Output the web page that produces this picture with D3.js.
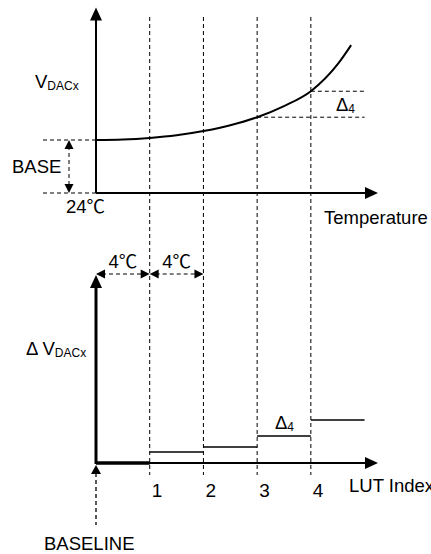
<!DOCTYPE html>
<html>
<head>
<meta charset="utf-8">
<script src="https://cdn.jsdelivr.net/npm/d3@7"></script>
<style>
  body { margin: 0; background: #fff; }
  text { font-family: "Liberation Sans", Arial, "Noto Sans CJK SC", sans-serif; fill: #000; }
</style>
</head>
<body>
<div id="chart"></div>
<script>
// curve data (top): temperature in deg C vs VDACx, arbitrary units (BASE = 1)
const temps = [24, 26, 28, 30, 32, 34, 36, 38, 40, 42, 43];
const vdac = [1.0, 1.01, 1.04, 1.09, 1.17, 1.28, 1.43, 1.64, 1.92, 2.43, 2.79];
const baseV = 1.0;

// LUT (bottom): index boundaries every 4 deg C, step deltas per segment
const lutIndex = [1, 2, 3, 4];
const lutTemps = [28, 32, 36, 40];
const stepStart = [24, 28, 32, 36, 40];
const stepDelta = [0, 1.1, 1.6, 2.7, 4.3];
const tempStep = 4;

const W = 431, H = 554;
const svg = d3.select('#chart').append('svg').attr('width', W).attr('height', H);

const x = d3.scaleLinear().domain([24, 45]).range([96, 378]);
const yTop = d3.scaleLinear().domain([0, 3.5]).range([193, 7.5]);
const yBot = d3.scaleLinear().domain([0, 18.8]).range([463, 275]);

const dash = '4,3';
const fs = '18.5px', fsSub = '12px';

function arrow(g, tipX, tipY, dir, len, half) {
  let pts;
  if (dir === 'up') pts = [[tipX, tipY], [tipX - half, tipY + len], [tipX + half, tipY + len]];
  if (dir === 'down') pts = [[tipX, tipY], [tipX - half, tipY - len], [tipX + half, tipY - len]];
  if (dir === 'right') pts = [[tipX, tipY], [tipX - len, tipY - half], [tipX - len, tipY + half]];
  if (dir === 'left') pts = [[tipX, tipY], [tipX + len, tipY - half], [tipX + len, tipY + half]];
  g.append('path').attr('d', 'M' + pts.join('L') + 'Z').attr('fill', '#000');
}

// vertical dashed LUT boundaries spanning both panels
svg.selectAll('.vdash').data(lutTemps).enter().append('line')
  .attr('x1', d => x(d)).attr('x2', d => x(d))
  .attr('y1', 17).attr('y2', 475)
  .attr('stroke', '#000').attr('stroke-width', 1).attr('stroke-dasharray', dash);

// ---------- top panel ----------
const gTop = svg.append('g');
const curveData = temps.map((t, i) => [t, vdac[i]]);

gTop.append('path').datum(curveData)
  .attr('d', d3.line().x(d => x(d[0])).y(d => yTop(d[1])).curve(d3.curveMonotoneX))
  .attr('fill', 'none').attr('stroke', '#000').attr('stroke-width', 2);

// BASE guide lines and double arrow
[baseV, 0].forEach(v => {
  gTop.append('line').attr('x1', 43).attr('x2', x(24)).attr('y1', yTop(v)).attr('y2', yTop(v))
    .attr('stroke', '#000').attr('stroke-dasharray', dash);
});
gTop.append('line').attr('x1', 69).attr('x2', 69).attr('y1', yTop(baseV) + 6).attr('y2', yTop(0) - 6)
  .attr('stroke', '#000').attr('stroke-dasharray', dash);
arrow(gTop, 69, yTop(baseV), 'up', 9, 4.5);
arrow(gTop, 69, yTop(0), 'down', 9, 4.5);

// delta-4 guide lines
[36, 40].forEach(t => {
  const v = vdac[temps.indexOf(t)];
  gTop.append('line').attr('x1', x(t)).attr('x2', x(44)).attr('y1', yTop(v)).attr('y2', yTop(v))
    .attr('stroke', '#000').attr('stroke-dasharray', dash);
});

// axes
gTop.append('line').attr('x1', x(24)).attr('x2', x(24)).attr('y1', yTop(0)).attr('y2', yTop(3.5) + 10)
  .attr('stroke', '#000').attr('stroke-width', 2);
arrow(gTop, x(24), yTop(3.5), 'up', 13, 6);
gTop.append('line').attr('x1', x(24)).attr('x2', x(45) - 10).attr('y1', yTop(0)).attr('y2', yTop(0))
  .attr('stroke', '#000').attr('stroke-width', 2);
arrow(gTop, x(45), yTop(0), 'right', 13, 6);

// labels
const vt = gTop.append('text').attr('x', 35).attr('y', 88).style('font-size', fs);
vt.append('tspan').text('V');
vt.append('tspan').attr('dy', 2).style('font-size', fsSub).text('DACx');

const d4 = gTop.append('text').attr('x', 336).attr('y', 111).style('font-size', fs);
d4.append('tspan').text('Δ');
d4.append('tspan').attr('dy', 2).style('font-size', fsSub).text('4');

gTop.append('text').attr('x', 12).attr('y', 173).style('font-size', fs).text('BASE');
gTop.append('text').attr('x', 66).attr('y', 213).style('font-size', fs).text('24℃');
gTop.append('text').attr('x', 324).attr('y', 224).style('font-size', fs).text('Temperature');

// ---------- bottom panel ----------
const gBot = svg.append('g');

// 4 deg C spacing arrows
[24, 28].forEach(t => {
  const y = 274;
  gBot.append('line').attr('x1', x(t) + 6).attr('x2', x(t + tempStep) - 6).attr('y1', y).attr('y2', y)
    .attr('stroke', '#000').attr('stroke-dasharray', dash);
  arrow(gBot, x(t), y, 'left', 9, 4.5);
  arrow(gBot, x(t + tempStep), y, 'right', 9, 4.5);
  gBot.append('text').attr('x', (x(t) + x(t + tempStep)) / 2).attr('y', 268)
    .attr('text-anchor', 'middle').style('font-size', fs).text(tempStep + '℃');
});

// step lines
stepStart.forEach((t, i) => {
  gBot.append('line').attr('x1', x(t)).attr('x2', x(t + tempStep))
    .attr('y1', yBot(stepDelta[i])).attr('y2', yBot(stepDelta[i]))
    .attr('stroke', '#000').attr('stroke-width', i === 0 ? 3.5 : 1.6);
});

// axes
gBot.append('line').attr('x1', x(24)).attr('x2', x(24)).attr('y1', yBot(0) + 1).attr('y2', yBot(18.8) + 10)
  .attr('stroke', '#000').attr('stroke-width', 3);
arrow(gBot, x(24), yBot(18.8), 'up', 13, 6);
gBot.append('line').attr('x1', x(24)).attr('x2', x(45) - 10).attr('y1', yBot(0)).attr('y2', yBot(0))
  .attr('stroke', '#000').attr('stroke-width', 2);
arrow(gBot, x(45), yBot(0), 'right', 13, 6);

// baseline pointer
gBot.append('line').attr('x1', x(24)).attr('x2', x(24)).attr('y1', yBot(0) + 10).attr('y2', 525)
  .attr('stroke', '#000').attr('stroke-width', 1.3).attr('stroke-dasharray', dash);
arrow(gBot, x(24), yBot(0) + 2, 'up', 9, 5);

// index labels
gBot.selectAll('.idx').data(lutIndex).enter().append('text')
  .attr('x', (d, i) => x(lutTemps[i]) + 2).attr('y', 497)
  .style('font-size', '19px').text(d => d);

gBot.append('text').attr('x', 349).attr('y', 492).style('font-size', fs).text('LUT Index');
gBot.append('text').attr('x', 44).attr('y', 550).style('font-size', fs).text('BASELINE');

const dv = gBot.append('text').attr('x', 26).attr('y', 355).style('font-size', fs);
dv.append('tspan').text('Δ V');
dv.append('tspan').attr('dy', 2).style('font-size', fsSub).text('DACx');

const d4b = gBot.append('text').attr('x', 275).attr('y', 429).style('font-size', fs);
d4b.append('tspan').text('Δ');
d4b.append('tspan').attr('dy', 2).style('font-size', fsSub).text('4');
</script>
</body>
</html>
